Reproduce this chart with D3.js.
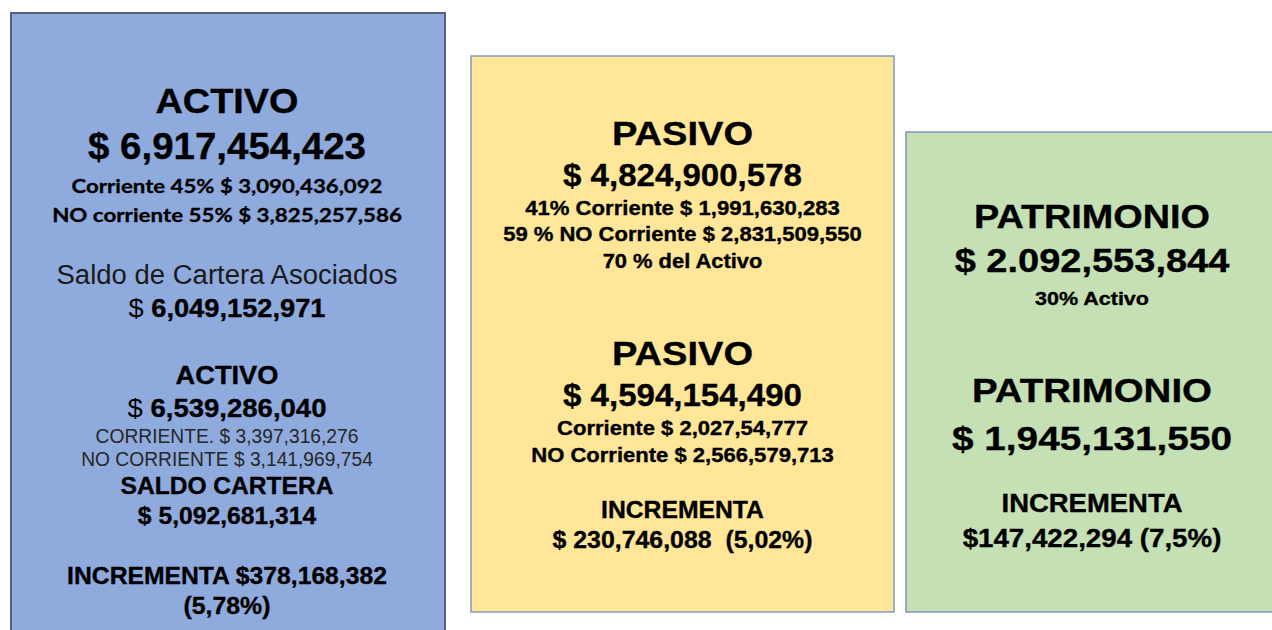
<!DOCTYPE html>
<html><head><meta charset="utf-8">
<script src="https://cdn.jsdelivr.net/npm/d3@7"></script>
<style>html,body{margin:0;padding:0;background:#fff;overflow:hidden}text{white-space:pre}</style>
</head><body>
<svg id="c" width="1272" height="630"></svg>
<script>
// ---------- DATA ----------
const categories = ["ACTIVO", "PASIVO", "PATRIMONIO"];
const activoLines = [
  "ACTIVO",
  "$ 6,917,454,423",
  "Corriente 45% $ 3,090,436,092",
  "NO corriente 55% $ 3,825,257,586",
  "Saldo de Cartera Asociados",
  "$ 6,049,152,971",
  "ACTIVO",
  "$ 6,539,286,040",
  "CORRIENTE. $ 3,397,316,276",
  "NO CORRIENTE $ 3,141,969,754",
  "SALDO CARTERA",
  "$ 5,092,681,314",
  "INCREMENTA $378,168,382",
  "(5,78%)"
];
const pasivoLines = [
  "PASIVO",
  "$ 4,824,900,578",
  "41% Corriente $ 1,991,630,283",
  "59 % NO Corriente $ 2,831,509,550",
  "70 % del Activo",
  "PASIVO",
  "$ 4,594,154,490",
  "Corriente $ 2,027,54,777",
  "NO Corriente $ 2,566,579,713",
  "INCREMENTA",
  "$ 230,746,088  (5,02%)"
];
const patrimonioLines = [
  "PATRIMONIO",
  "$ 2.092,553,844",
  "30% Activo",
  "PATRIMONIO",
  "$ 1,945,131,550",
  "INCREMENTA",
  "$147,422,294 (7,5%)"
];

// ---------- LAYOUT / STYLE ----------
const boxLayout = [
  {x0: 11,  x1: 445,  y0: 13,  y1: 650, cx: 227,  fill: "#8faadc", stroke: "#56607a", sw: 2},
  {x0: 471, x1: 894,  y0: 56,  y1: 612, cx: 682.5, fill: "#ffe699", stroke: "#8398c3", sw: 1.5},
  {x0: 906, x1: 1290, y0: 132, y1: 612, cx: 1092, fill: "#c5e0b4", stroke: "#7f94bd", sw: 1.5}
];
// [baseline, fontSize, targetWidth, style]
const lineLayout = [
  [[113,36,143,"B"],[159,36,278,"B"],[193,19,311,"C"],[222,19,350,"C"],[284,27,341,"R"],[317,26,197,"M"],
   [384,25,103,"B"],[417,26,199,"M"],[443,19.5,263,"G"],[466,19.5,292,"G"],[494,24,213,"B"],[524,24,179,"B"],
   [584,24,320,"B"],[614,24,87,"B"]],
  [[145,33,141,"B"],[186,32,239,"B"],[215,19.5,315,"B"],[241,19.5,359,"B"],[268,19.5,160,"B"],
   [365,33,141,"B"],[406,32,239,"B"],[435,19.5,251,"B"],[462,19.5,303,"B"],[518,24,163,"B"],[548,24,260,"B"]],
  [[228,33,236,"B"],[272,34,275,"B"],[305,18,114,"B"],[402,33,240,"B"],[450,34,280,"B"],[512,25,181,"B"],[547,25,259,"B"]]
];
const styles = {
  B: {family: "'Liberation Sans', Arial, sans-serif", weight: 700, color: "#000", sw: 0.35},
  R: {family: "'Liberation Sans', Arial, sans-serif", weight: 400, color: "#1a1a1a", sw: 0},
  G: {family: "'Liberation Sans', Arial, sans-serif", weight: 400, color: "#262626", sw: 0},
  C: {family: "Lato, 'Open Sans', sans-serif", weight: 700, color: "#000", sw: 0.3},
  M: {family: "'Liberation Sans', Arial, sans-serif", weight: 700, color: "#000", sw: 0.35}
};

const allLines = [activoLines, pasivoLines, patrimonioLines];
const svg = d3.select("#c");
const y = d3.scaleLinear().domain([0, 630]).range([0, 630]);

const groups = svg.selectAll("g.box").data(categories).join("g").attr("class", "box");

groups.append("rect")
  .attr("x", (d, i) => boxLayout[i].x0)
  .attr("y", (d, i) => y(boxLayout[i].y0))
  .attr("width", (d, i) => boxLayout[i].x1 - boxLayout[i].x0)
  .attr("height", (d, i) => y(boxLayout[i].y1) - y(boxLayout[i].y0))
  .attr("fill", (d, i) => boxLayout[i].fill)
  .attr("stroke", (d, i) => boxLayout[i].stroke)
  .attr("stroke-width", (d, i) => boxLayout[i].sw);

groups.each(function(d, i) {
  const g = d3.select(this);
  const lines = allLines[i].map((t, j) => ({t, l: lineLayout[i][j]}));
  g.selectAll("g.line").data(lines).join("g").attr("class", "line")
    .attr("transform", e => `translate(${boxLayout[i].cx},${y(e.l[0])})`)
    .each(function(e) {
      const st = styles[e.l[3]];
      const txt = d3.select(this).append("text")
        .attr("text-anchor", "middle")
        .attr("font-family", st.family)
        .attr("font-size", e.l[1])
        .attr("font-weight", st.weight)
        .attr("fill", st.color)
        .attr("stroke", st.sw ? st.color : "none")
        .attr("stroke-width", st.sw);
      if (e.l[3] === "M") {
        txt.append("tspan").attr("font-weight", 400).attr("stroke", "none").text(e.t.slice(0, 2));
        txt.append("tspan").text(e.t.slice(2));
      } else {
        txt.text(e.t);
      }
      const w = txt.node().getBBox().width;
      const sx = e.l[2] / w;
      txt.attr("transform", `scale(${sx},1)`);
    });
});
</script>
</body></html>
